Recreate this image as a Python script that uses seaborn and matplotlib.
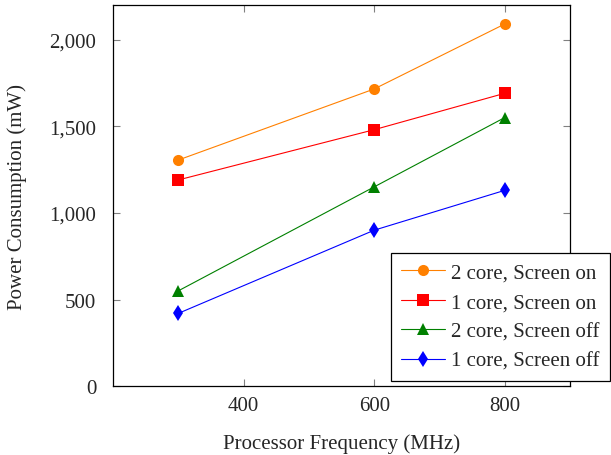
import pandas as pd
import seaborn as sns
import matplotlib.pyplot as plt

sns.set_theme(style="ticks")
plt.rcParams["font.family"] = ["Liberation Serif", "DejaVu Serif"]
plt.rcParams["mathtext.fontset"] = "stix"

# dados
freq = [300, 600, 800]
series_names = ["2 core, Screen on", "1 core, Screen on", "2 core, Screen off", "1 core, Screen off"]
core2_on = [1305, 1715, 2090]
core1_on = [1190, 1480, 1690]
core2_off = [550, 1150, 1550]
core1_off = [420, 900, 1130]

cores = ["#ff8000", "#ff0000", "#008000", "#0000ff"]
marcadores = ["o", "s", "^", "d"]

df = pd.DataFrame({
    "freq": freq * 4,
    "power": core2_on + core1_on + core2_off + core1_off,
    "serie": [n for n in series_names for _ in freq],
})

fig = plt.figure(figsize=(6.11, 4.56), dpi=100)
ax = fig.add_axes([0.185, 0.151, 0.748, 0.836])

sns.lineplot(data=df, x="freq", y="power", hue="serie", style="serie",
             hue_order=series_names, style_order=series_names,
             palette=dict(zip(series_names, cores)),
             markers=dict(zip(series_names, marcadores)),
             dashes=False, markersize=8, linewidth=0.8,
             markeredgewidth=0, ax=ax)

ax.set_xlim(200, 900)
ax.set_ylim(0, 2200)
ax.set_xticks([400, 600, 800])
ax.set_yticks([0, 500, 1000, 1500, 2000])
ax.set_yticklabels(["0", "500", "1,000", "1,500", "2,000"])
ax.tick_params(direction="in", length=5, width=0.8, color="#808080",
               top=True, right=True, labelsize=15)
ax.tick_params(axis="x", pad=7)
ax.tick_params(axis="y", pad=12)
for s in ax.spines.values():
    s.set_color("black")
    s.set_linewidth(0.9)

ax.set_xlabel("Processor Frequency (MHz)", fontsize=15, labelpad=13)
ax.set_ylabel("Power Consumption (mW)", fontsize=15, labelpad=16)

leg = ax.legend(loc="upper left", bbox_to_anchor=(0.608, 0.35), borderaxespad=0,
                fontsize=15, frameon=True, fancybox=False, framealpha=1,
                edgecolor="black", handlelength=2.1, borderpad=0.5,
                labelspacing=0.47, handletextpad=0.3)
leg.get_frame().set_linewidth(0.9)

fig.savefig("out.png", dpi=100)
